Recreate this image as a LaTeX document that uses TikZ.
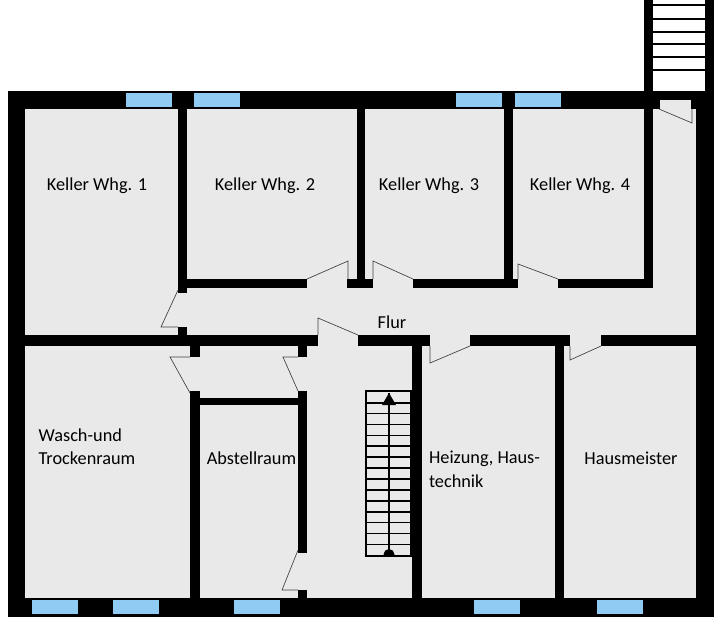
\documentclass[tikz,border=0pt]{standalone}
\usepackage{fontspec}
\setmainfont{Carlito}
\usetikzlibrary{positioning}
\definecolor{floorgrey}{HTML}{E9E9E9}
\definecolor{glassblue}{HTML}{8FCBF2}
\tikzset{>=latex}
\tikzstyle{wall} = [fill=black, draw=none]
\tikzstyle{floorpatch} = [fill=floorgrey, draw=none]
\tikzstyle{pane} = [fill=glassblue, draw=none]
\tikzstyle{door} = [draw=black!75, line width=0.5pt, line join=miter]
\tikzstyle{room} = [draw=none, inner sep=0, font=\fontsize{13.7}{17.6}\selectfont, align=left]
\begin{document}
\begin{tikzpicture}[x=0.75pt, y=-0.75pt]
\useasboundingbox (0,0) rectangle (724,629);
\fill [white] (0,0) rectangle (724,629);
% outer walls and floor
\path [wall] (8,91) rectangle (714,616.5);
\path [floorpatch] (25,109) rectangle (696,598);
\path [floorpatch] (660,100) rectangle (691,109);
% stair tower
\path [wall] (644,0) rectangle (653,91);
\path [wall] (705,0) rectangle (714,91);
\foreach \y in {5,19,32,44,57,70} {
  \path [wall] (653,\y-1) rectangle (705,\y+1);
}
% upper rooms
\path [wall] (178,109) rectangle (187,293);
\path [wall] (357,109) rectangle (365,279);
\path [wall] (504,109) rectangle (513,279);
\path [wall] (644,109) rectangle (653,288);
\path [wall] (187,279) rectangle (307,288);
\path [wall] (347,279) rectangle (373,288);
\path [wall] (413,279) rectangle (518,288);
\path [wall] (558,279) rectangle (653,288);
\path [wall] (178,327) rectangle (187,335);
% corridor wall
\path [wall] (25,335) rectangle (318,346);
\path [wall] (358,335) rectangle (430,346);
\path [wall] (470,335) rectangle (570,346);
\path [wall] (601,335) rectangle (696,346);
% lower rooms
\path [wall] (190,346) rectangle (200,357);
\path [wall] (298,346) rectangle (307,357);
\path [wall] (190,391) rectangle (200,598);
\path [wall] (298,391) rectangle (307,553);
\path [wall] (200,398) rectangle (298,405);
\path [wall] (298,590) rectangle (307,598);
\path [wall] (412,346) rectangle (422,598);
\path [wall] (555,346) rectangle (564,598);
% windows
\foreach \x in {126,194,456,515} {
  \path [pane] (\x,93) rectangle (\x+46,107);
}
\foreach \x in {32,113,234,474,597} {
  \path [pane] (\x,600) rectangle (\x+46,614);
}
% doors
\draw [door] (307,279) -- (348,261) -- (348,279);
\draw [door] (373,279) -- (373,261) -- (413,279);
\draw [door] (518,279) -- (518,264) -- (558,279);
\draw [door] (178,290) -- (161,327) -- (178,327);
\draw [door] (318,335) -- (318,318) -- (358,335);
\draw [door] (430,346) -- (430,363) -- (470,346);
\draw [door] (570,346) -- (570,360) -- (601,346);
\draw [door] (190,357) -- (170,357) -- (190,393);
\draw [door] (298,357) -- (283,357) -- (298,391);
\draw [door] (298,550) -- (282,590) -- (298,590);
\draw [door] (659,109) -- (692,123) -- (692,109);
% stairs
\draw [line width=2pt] (366,391) rectangle (411.5,556);
\foreach \i in {0,...,13} {
  \draw [line width=1.3pt] (366,402.7+10.9*\i) -- (411.5,402.7+10.9*\i);
}
\draw [line width=1.3pt] (389,393) -- (389,556);
\fill [black] (389,393) -- (396,405) -- (382,405) -- cycle;
\begin{scope}
\clip (380,545) rectangle (398,556);
\fill [black] (389,554.5) circle [radius=5.5];
\end{scope}
% labels
\node [room] (whg1) at (97,186) {Keller Whg. 1};
\node [room] (whg2) at (265,186) {Keller Whg. 2};
\node [room] (whg3) at (429,186) {Keller Whg. 3};
\node [room] (whg4) at (580,186) {Keller Whg. 4};
\node [room] (flur) at (392,322) {Flur};
\node [room] (wasch) at (87,446.5) {Wasch-und\\Trockenraum};
\node [room] (abst) at (251.5,458.5) {Abstellraum};
\node [room] (heiz) at (484.5,469.5) {Heizung, Haus-\\technik};
\node [room] (meister) at (631,458.5) {Hausmeister};
\end{tikzpicture}
\end{document}
